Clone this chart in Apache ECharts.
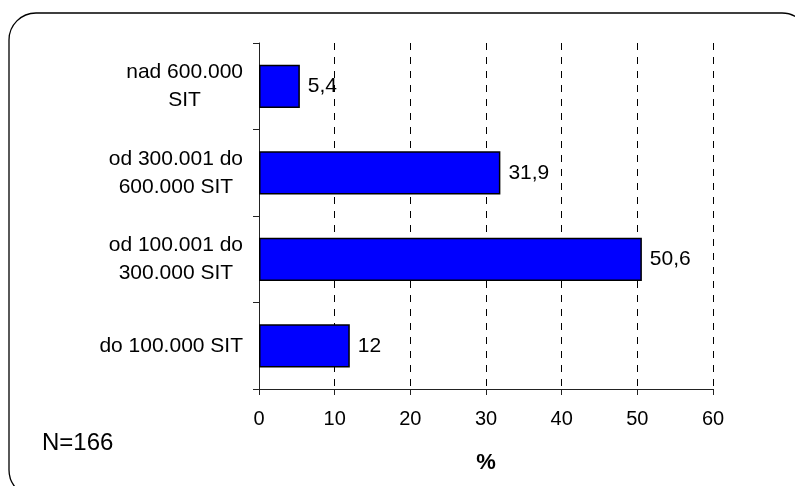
<!DOCTYPE html>
<html>
<head>
<meta charset="utf-8">
<script src="https://cdn.jsdelivr.net/npm/echarts@6/dist/echarts.min.js"></script>
<style>
  html, body { margin: 0; padding: 0; background: #fff; }
  #chart { width: 795px; height: 486px; }
</style>
</head>
<body>
<div id="chart"></div>
<script>
// Income brackets (bottom to top) and the share of respondents in each, in %
const categories = [
  'do 100.000 SIT',
  'od 100.001 do\n300.000 SIT',
  'od 300.001 do\n600.000 SIT',
  'nad 600.000\nSIT'
];
const shares = [12, 50.6, 31.9, 5.4];
const axisTicks = [0, 10, 20, 30, 40, 50, 60];
const sampleNote = 'N=166';
const axisUnit = '%';

const FONT = 'Liberation Sans, Arial, sans-serif';

const chart = echarts.init(document.getElementById('chart'), null, { renderer: 'canvas' });

chart.setOption({
  animation: false,
  backgroundColor: '#ffffff',
  grid: { left: 259, right: 82, top: 43, bottom: 97, containLabel: false },
  xAxis: {
    type: 'value',
    min: axisTicks[0],
    max: axisTicks[axisTicks.length - 1],
    interval: axisTicks[1] - axisTicks[0],
    name: axisUnit,
    nameLocation: 'middle',
    nameGap: 63,
    nameTextStyle: { color: '#000', fontSize: 22, fontWeight: 'bold', fontFamily: FONT },
    axisLine: { show: true, lineStyle: { color: '#222', width: 1 } },
    axisTick: { show: true, length: 6, lineStyle: { color: '#222' } },
    axisLabel: { color: '#000', fontSize: 20, fontFamily: FONT, margin: 20 },
    splitLine: { show: true, lineStyle: { color: '#000', type: [7, 7], width: 1 } }
  },
  yAxis: {
    type: 'category',
    data: categories,
    axisLine: { show: true, lineStyle: { color: '#222', width: 1 } },
    axisTick: { show: true, length: 6, lineStyle: { color: '#222' } },
    axisLabel: {
      margin: 16,
      formatter: v => v.split('\n').map(l => '{c|' + l + '}').join('\n'),
      rich: {
        c: { align: 'center', fontSize: 21, lineHeight: 28, color: '#000', fontFamily: FONT }
      }
    }
  },
  series: [{
    type: 'bar',
    data: shares,
    barCategoryGap: '50%',
    itemStyle: { color: '#0000ff', borderColor: '#000', borderWidth: 1.5 },
    label: {
      show: true,
      position: 'right',
      distance: 8,
      color: '#000',
      fontSize: 21,
      fontFamily: FONT,
      formatter: p => String(p.value).replace('.', ',')
    }
  }],
  graphic: [
    {
      type: 'rect',
      shape: { x: 9, y: 13, width: 800, height: 484, r: 27 },
      style: { fill: 'none', stroke: '#000', lineWidth: 1.3 },
      z: 100
    },
    {
      type: 'text',
      left: 42, top: 431,
      style: { text: sampleNote, fill: '#000', font: '24px ' + FONT }
    }
  ]
});
</script>
</body>
</html>
